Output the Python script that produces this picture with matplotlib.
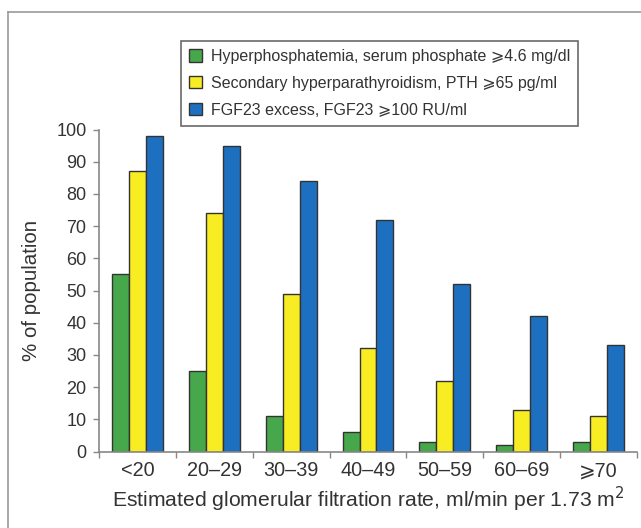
import matplotlib
matplotlib.use("Agg")
import matplotlib.pyplot as plt
from matplotlib.lines import Line2D
import numpy as np

plt.rcParams['font.family'] = ['Liberation Sans', 'DejaVu Sans']

categories = ["<20", "20\u201329", "30\u201339", "40\u201349", "50\u201359", "60\u201369", "\u2a7e70"]
hyperphosphatemia = [55, 25, 11, 6, 3, 2, 3]
secondary_hpt = [87, 74, 49, 32, 22, 13, 11]
fgf23_excess = [98, 95, 84, 72, 52, 42, 33]
series_labels = [
    "Hyperphosphatemia, serum phosphate \u2a7e4.6 mg/dl",
    "Secondary hyperparathyroidism, PTH \u2a7e65 pg/ml",
    "FGF23 excess, FGF23 \u2a7e100 RU/ml",
]
colors = ["#46a84a", "#f8ec22", "#1d6fc0"]
yticks = list(range(0, 101, 10))

W, H = 641, 528
fig = plt.figure(figsize=(W / 100, H / 100), dpi=100)
ax = fig.add_axes([99 / W, 1 - 451.5 / H, (637 - 99) / W, (451.5 - 129.5) / H])

x = np.arange(len(categories))
bw = 0.22
handles = []
for i, (vals, col, lab) in enumerate(zip([hyperphosphatemia, secondary_hpt, fgf23_excess], colors, series_labels)):
    b = ax.bar(x + (i - 1) * bw, vals, width=bw, color=col, edgecolor="#333333", linewidth=1.0, label=lab)
    handles.append(b)

ax.set_xlim(-0.5, len(categories) - 0.5)
ax.set_ylim(0, 100)
ax.set_yticks(yticks)
ax.set_yticklabels([str(v) for v in yticks], fontsize=13, color="#333333")
ax.set_xticks(x)
ax.set_xticklabels(categories, fontsize=14.3, color="#333333")
ax.tick_params(axis="x", length=0, pad=7)
ax.tick_params(axis="y", length=4, width=1, color="#888888", pad=5)
ax.set_xticks(np.arange(len(categories) + 1) - 0.5, minor=True)
ax.tick_params(axis="x", which="minor", length=4, width=1, color="#888888")

for s in ["top", "right"]:
    ax.spines[s].set_visible(False)
for s in ["left", "bottom"]:
    ax.spines[s].set_color("#888888")
    ax.spines[s].set_linewidth(1.2)

ax.set_xlabel("Estimated glomerular filtration rate, ml/min per 1.73 m$^2$", fontsize=15.2, color="#333333", labelpad=3)
ax.set_ylabel("% of population", fontsize=14.8, color="#333333", labelpad=11)

leg = fig.legend(handles=handles, labels=series_labels, loc="upper left",
                 bbox_to_anchor=(181 / W, 1 - 41 / H), borderaxespad=0,
                 fontsize=11.5, frameon=True, fancybox=False,
                 handlelength=0.8, handleheight=0.8, handletextpad=0.55,
                 labelspacing=0.74, borderpad=0.5)
leg.get_frame().set_edgecolor("#444444")
leg.get_frame().set_linewidth(1.2)
for t in leg.get_texts():
    t.set_color("#333333")

fig.add_artist(Line2D([8 / W, 1.0], [1 - 12 / H, 1 - 12 / H], transform=fig.transFigure, color="#999999", linewidth=1.2))
fig.add_artist(Line2D([8 / W, 8 / W], [0, 1 - 12 / H], transform=fig.transFigure, color="#999999", linewidth=1.2))

fig.savefig("out.png", dpi=100)
